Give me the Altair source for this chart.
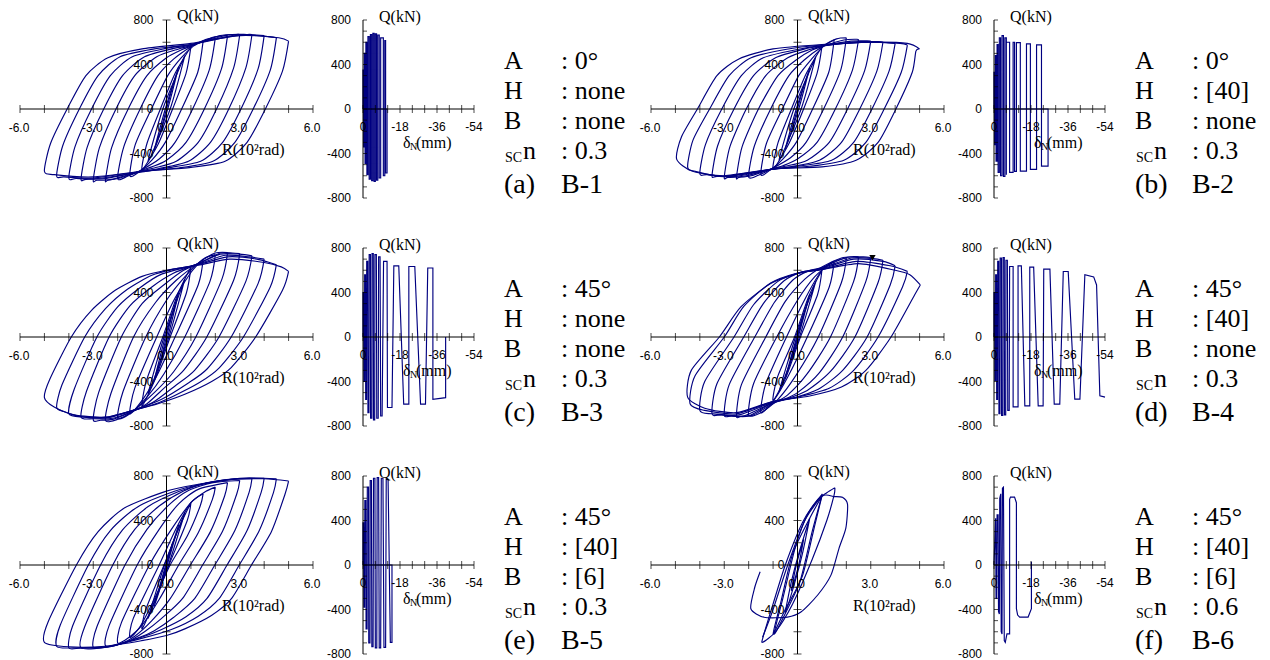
import altair as alt
import pandas as pd

NAVY = "#000080"
SANS = "Liberation Sans, Arial, sans-serif"
SERIF = "Liberation Serif, Times New Roman, serif"

# ---------------- axis definitions ----------------
R_TICKS = [-6, -5, -4, -3, -2, -1, 0, 1, 2, 3, 4, 5, 6]
R_LABELS = [-6, -3, 0, 3, 6]
R_LABEL_TEXT = ["-6.0", "-3.0", "0.0", "3.0", "6.0"]
Q_TICKS = [-800, -600, -400, -200, 0, 200, 400, 600, 800]
Q_LABELS = [-800, -400, 0, 400, 800]
Q_LABEL_TEXT = ["-800", "-400", "0", "400", "800"]
D_TICKS = [0, -6, -12, -18, -24, -30, -36, -42, -48, -54]
D_LABELS = [0, -18, -36, -54]
D_LABEL_TEXT = ["0", "-18", "-36", "-54"]
DQ_TICKS = [-800, -700, -600, -500, -400, -300, -200, -100, 0, 100, 200, 300, 400, 500, 600, 700, 800]

# ---------------- hysteresis loops (R [10^-2 rad], Q [kN]) ----------------
B1_LOOPS = [
    [5, 610, 4.75, 340, 4.05, 0, 3.3, -300, 2.4, -470, 1.0, -525, -1, -560, -3, -610, -4.6, -590, -5, -560, -4.75, -310, -4.07, 0, -3.3, 300, -2.4, 460, -1, 540, 1, 590, 3, 660, 4.6, 640, 5, 610],
    [4.5, 640, 4.25, 350, 3.55, 0, 2.8, -300, 1.9, -470, 0.5, -530, -1, -560, -3, -620, -4.2, -610, -4.5, -600, -4.25, -330, -3.57, 0, -2.8, 300, -1.9, 470, -0.5, 540, 1, 580, 3, 665, 4.2, 650, 4.5, 640],
    [4, 660, 3.75, 360, 3.05, 0, 2.3, -300, 1.4, -470, 0, -530, -1, -565, -2.8, -625, -3.7, -625, -4, -620, -3.75, -340, -3.07, 0, -2.3, 300, -1.4, 470, 0, 545, 1, 580, 2.8, 665, 3.7, 665, 4, 660],
    [3.5, 670, 3.25, 370, 2.55, 0, 1.8, -300, 0.9, -470, -0.3, -535, -1, -560, -2.5, -625, -3.3, -632, -3.5, -630, -3.25, -345, -2.57, 0, -1.8, 300, -0.9, 470, 0.3, 545, 1, 575, 2.5, 665, 3.3, 670, 3.5, 670],
    [3, 670, 2.75, 370, 2.05, 0, 1.3, -300, 0.4, -470, -0.5, -530, -1, -555, -2.2, -630, -2.85, -640, -3, -640, -2.75, -350, -2.07, 0, -1.3, 300, -0.4, 470, 0.5, 540, 1, 570, 2.2, 660, 2.85, 670, 3, 670],
    [2.5, 660, 2.25, 360, 1.55, 0, 0.8, -300, 0, -460, -0.6, -520, -1, -550, -1.9, -620, -2.4, -640, -2.5, -640, -2.25, -350, -1.57, 0, -0.8, 300, 0, 460, 0.6, 530, 1, 565, 1.9, 645, 2.4, 660, 2.5, 660],
    [2, 640, 1.75, 350, 1.07, 0, 0.35, -300, -0.3, -450, -1, -545, -1.6, -605, -2, -625, -1.75, -340, -1.08, 0, -0.35, 300, 0.3, 450, 1, 560, 1.6, 625, 2, 640],
    [1.5, 610, 1.28, 330, 0.62, 0, -0.05, -300, -0.6, -460, -1.1, -560, -1.5, -600, -1.28, -320, -0.62, 0, 0.05, 300, 0.6, 460, 1.1, 565, 1.5, 610],
    [1, 560, 0.8, 320, 0.25, 0, -0.35, -320, -1, -545, -0.8, -310, -0.25, 0, 0.35, 320, 1, 560],
    [0.75, 480, 0.15, 0, -0.75, -470, -0.15, 0, 0.75, 480],
    [0.5, 380, 0.05, 0, -0.5, -370, -0.05, 0, 0.5, 380],
    [0.25, 200, -0.25, -200, 0.25, 200],
]

B2_LOOPS = [
    [5, 540, 4.85, 520, 4.7, 330, 4.03, 0, 3.3, -300, 2.4, -460, 1, -520, -1, -540, -3, -600, -4.3, -560, -4.95, -450, -4.75, -250, -4.1, 0, -3.3, 300, -2.4, 450, -1, 540, 1, 580, 3, 600, 4.5, 590, 5, 540],
    [4.5, 575, 4.25, 330, 3.55, 0, 2.8, -300, 1.9, -460, 0.5, -515, -1, -540, -3, -605, -4.2, -560, -4.5, -520, -4.28, -280, -3.6, 0, -2.8, 300, -1.9, 460, -0.5, 535, 1, 575, 3, 600, 4.2, 590, 4.5, 575],
    [4, 590, 3.75, 340, 3.05, 0, 2.3, -300, 1.4, -460, 0, -515, -1, -540, -2.8, -605, -3.7, -590, -4, -580, -3.77, -320, -3.1, 0, -2.3, 300, -1.4, 460, 0, 535, 1, 570, 2.8, 600, 3.7, 595, 4, 590],
    [3.5, 600, 3.25, 340, 2.55, 0, 1.8, -300, 0.9, -460, -0.3, -520, -1, -540, -2.5, -605, -3.3, -605, -3.5, -600, -3.27, -330, -2.6, 0, -1.8, 300, -0.9, 460, 0.3, 540, 1, 565, 2.5, 605, 3.3, 605, 3.5, 600],
    [3, 610, 2.75, 345, 2.05, 0, 1.3, -300, 0.4, -460, -0.5, -515, -1, -535, -2.2, -605, -2.85, -615, -3, -615, -2.77, -340, -2.1, 0, -1.3, 300, -0.4, 460, 0.5, 535, 1, 565, 2.2, 610, 2.85, 612, 3, 610],
    [2.5, 625, 2.25, 350, 1.55, 0, 0.8, -300, 0, -450, -0.6, -510, -1, -535, -1.9, -600, -2.4, -615, -2.5, -615, -2.27, -340, -1.6, 0, -0.8, 300, 0, 450, 0.6, 530, 1, 562, 1.9, 620, 2.4, 627, 2.5, 625],
    [2, 640, 1.77, 350, 1.07, 0, 0.35, -300, -0.3, -440, -1, -530, -1.6, -595, -2, -610, -1.77, -335, -1.1, 0, -0.35, 300, 0.3, 445, 1, 560, 1.6, 630, 2, 640],
    [1.5, 620, 1.28, 330, 0.62, 0, -0.05, -300, -0.6, -450, -1.1, -545, -1.5, -590, -1.28, -315, -0.62, 0, 0.05, 300, 0.6, 455, 1.1, 570, 1.5, 620],
    [1, 560, 0.8, 320, 0.25, 0, -0.35, -310, -1, -540, -0.8, -305, -0.25, 0, 0.35, 315, 1, 560],
    [0.75, 470, 0.15, 0, -0.75, -460, -0.15, 0, 0.75, 470],
    [0.5, 370, 0.05, 0, -0.5, -360, -0.05, 0, 0.5, 370],
    [0.25, 200, -0.25, -195, 0.25, 200],
]

B3_LOOPS = [
    [5, 590, 4.75, 420, 3.65, 0, 2.65, -275, 1.85, -400, 0.75, -515, -0.35, -600, -1.3, -655, -2.5, -720, -3.8, -700, -4.6, -630, -5, -545, -4.78, -380, -3.9, 0, -3.07, 240, -2.1, 420, -1, 545, 0, 600, 1.3, 645, 2.6, 700, 4, 670, 4.7, 630, 5, 590],
    [4.5, 650, 4.25, 450, 3.15, 0, 2.15, -280, 1.35, -410, 0.3, -530, -0.5, -605, -1.3, -655, -2.4, -720, -3.5, -715, -4.2, -670, -4.5, -630, -4.28, -430, -3.35, 0, -2.5, 255, -1.6, 430, -0.6, 555, 0.3, 610, 1.3, 650, 2.5, 720, 3.7, 700, 4.5, 650],
    [4, 700, 3.75, 480, 2.65, 0, 1.65, -290, 0.85, -420, -0.2, -560, -1.3, -655, -2.4, -725, -3.4, -720, -4, -690, -3.78, -470, -2.85, 0, -2.0, 270, -1.1, 440, -0.2, 565, 1.3, 655, 2.4, 735, 3.4, 720, 4, 700],
    [3.5, 730, 3.25, 500, 2.15, 0, 1.15, -300, 0.35, -440, -0.5, -580, -1.3, -660, -2.2, -730, -3, -735, -3.5, -720, -3.28, -490, -2.35, 0, -1.5, 280, -0.6, 450, 0.3, 575, 1.3, 660, 2.2, 745, 3, 745, 3.5, 730],
    [3, 750, 2.75, 510, 1.65, 0, 0.7, -300, -0.1, -460, -0.8, -600, -1.4, -670, -2.2, -740, -2.7, -748, -3, -745, -2.78, -500, -1.85, 0, -1.0, 300, -0.1, 470, 0.7, 600, 1.4, 670, 2.2, 755, 2.7, 755, 3, 750],
    [2.5, 760, 2.27, 520, 1.2, 0, 0.3, -310, -0.5, -500, -1.4, -670, -2.0, -740, -2.5, -750, -2.28, -510, -1.35, 0, -0.45, 310, 0.4, 510, 1.4, 680, 2, 755, 2.5, 760],
    [2, 740, 1.78, 500, 0.75, 0, -0.1, -330, -0.8, -540, -1.5, -690, -2, -730, -1.78, -490, -0.85, 0, 0, 330, 0.75, 540, 1.5, 700, 2, 740],
    [1.5, 700, 1.3, 470, 0.35, 0, -0.4, -350, -1.0, -570, -1.5, -690, -1.3, -460, -0.4, 0, 0.35, 350, 1, 580, 1.5, 700],
    [1, 630, 0.82, 400, 0.15, 0, -0.45, -370, -1, -620, -0.82, -390, -0.15, 0, 0.45, 380, 1, 630],
    [0.75, 520, 0.1, 0, -0.75, -510, -0.1, 0, 0.75, 520],
    [0.5, 400, 0.05, 0, -0.5, -390, -0.05, 0, 0.5, 400],
    [0.25, 220, -0.25, -215, 0.25, 220],
]

B4_LOOPS = [
    [5.03, 468, 4.8, 380, 3.83, 0, 2.8, -300, 1.8, -450, 0.5, -530, -1.02, -580, -2.5, -680, -3.8, -640, -4.5, -540, -4.35, -300, -3.2, 0, -2.32, 270, -1.1, 480, 0, 570, 0.96, 605, 2.5, 660, 4, 600, 4.6, 560, 5.03, 468],
    [4.5, 590, 4.3, 450, 3.3, 0, 2.3, -300, 1.3, -460, 0, -540, -1.02, -580, -2.5, -690, -3.8, -660, -4.4, -600, -4.2, -350, -3.0, 0, -2.2, 275, -1.1, 485, 0, 575, 0.96, 605, 2.4, 680, 3.8, 640, 4.5, 590],
    [4, 640, 3.8, 470, 2.85, 0, 1.85, -300, 0.85, -470, -0.2, -550, -1.02, -585, -2.4, -700, -3.5, -690, -4, -660, -3.8, -400, -2.6, 0, -1.8, 290, -0.8, 500, 0.1, 580, 0.96, 610, 2.3, 700, 3.5, 680, 4, 640],
    [3.5, 690, 3.3, 490, 2.35, 0, 1.35, -310, 0.4, -480, -0.5, -560, -1.02, -590, -2.2, -710, -3.1, -700, -3.5, -690, -3.3, -420, -2.2, 0, -1.4, 300, -0.55, 505, 0.2, 585, 0.96, 615, 2.2, 710, 3.1, 705, 3.5, 690],
    [3, 715, 2.8, 500, 1.85, 0, 0.9, -320, 0, -500, -0.6, -565, -1.1, -600, -2, -710, -2.7, -710, -3, -700, -2.8, -430, -1.75, 0, -0.95, 310, -0.2, 510, 0.4, 590, 1, 625, 2, 715, 2.7, 720, 3, 715],
    [2.5, 720, 2.3, 500, 1.35, 0, 0.4, -330, -0.4, -520, -1.1, -610, -1.8, -700, -2.3, -712, -2.5, -710, -2.3, -430, -1.3, 0, -0.5, 320, 0.3, 520, 1, 630, 1.8, 710, 2.3, 722, 2.5, 720],
    [2, 710, 1.8, 490, 0.85, 0, -0.05, -340, -0.8, -560, -1.5, -680, -2, -700, -1.8, -420, -0.85, 0, 0, 330, 0.7, 540, 1.4, 670, 2, 710],
    [1.5, 680, 1.3, 450, 0.4, 0, -0.4, -360, -1.0, -580, -1.5, -680, -1.3, -420, -0.45, 0, 0.35, 360, 1, 600, 1.5, 680],
    [1, 600, 0.82, 380, 0.12, 0, -0.45, -350, -1, -570, -0.82, -360, -0.12, 0, 0.45, 360, 1, 600],
    [0.75, 500, 0.08, 0, -0.75, -490, -0.08, 0, 0.75, 500],
    [0.5, 380, 0.03, 0, -0.5, -370, -0.03, 0, 0.5, 380],
    [0.25, 210, -0.25, -205, 0.25, 210],
]
B4_MARK_R = [3.07]
B4_MARK_Q = [713]

B5_LOOPS = [
    [5, 755, 4.85, 634, 4.3, 302, 3.48, 0, 2.66, -302, 1.84, -453, 0.75, -574, 0, -634, -1.02, -680, -2.5, -730, -4, -735, -5, -695, -4.85, -513, -3.69, 0, -2.8, 300, -1.71, 514, 0, 664, 1.3, 725, 2.66, 770, 4, 775, 5, 755],
    [4.5, 775, 4.38, 650, 3.8, 310, 2.98, 0, 2.16, -300, 1.3, -460, 0.2, -580, -1.02, -660, -2.5, -735, -3.8, -745, -4.5, -730, -4.35, -540, -3.2, 0, -2.3, 310, -1.2, 520, 0.3, 660, 1.5, 730, 3, 775, 4, 780, 4.5, 775],
    [4, 780, 3.88, 655, 3.3, 310, 2.48, 0, 1.66, -300, 0.8, -465, -0.2, -580, -1.02, -650, -2.4, -735, -3.5, -745, -4, -745, -3.85, -550, -2.7, 0, -1.8, 315, -0.75, 525, 0.5, 660, 1.6, 735, 3, 780, 4, 780],
    [3.5, 775, 3.38, 650, 2.8, 310, 1.98, 0, 1.16, -300, 0.3, -470, -0.5, -590, -1.1, -650, -2.3, -735, -3.5, -745, -3.35, -555, -2.2, 0, -1.3, 320, -0.3, 530, 0.7, 665, 1.7, 740, 2.8, 775, 3.5, 775],
    [3, 760, 2.88, 640, 2.3, 305, 1.48, 0, 0.66, -300, -0.2, -480, -0.9, -600, -1.6, -690, -2.4, -735, -3, -740, -2.85, -555, -1.7, 0, -0.8, 320, 0.1, 540, 0.9, 670, 1.9, 740, 3, 760],
    [2.5, 740, 2.38, 620, 1.8, 300, 0.98, 0, 0.16, -300, -0.6, -500, -1.3, -640, -1.9, -710, -2.5, -725, -2.35, -545, -1.2, 0, -0.3, 320, 0.5, 550, 1.3, 680, 2.5, 740],
    [2, 700, 1.88, 590, 1.3, 290, 0.5, 0, -0.3, -310, -1.0, -540, -1.6, -660, -2, -700, -1.85, -520, -0.7, 0, 0.2, 320, 1, 560, 1.6, 660, 2, 700],
    [1.5, 640, 1.38, 530, 0.85, 260, 0.15, 0, -0.55, -330, -1.1, -560, -1.5, -650, -1.36, -480, -0.3, 0, 0.4, 330, 1, 560, 1.5, 640],
    [1, 560, 0.85, 400, 0.1, 0, -0.5, -330, -1, -574, -0.85, -400, -0.1, 0, 0.5, 330, 1, 560],
    [0.75, 470, 0.08, 0, -0.75, -480, -0.08, 0, 0.75, 470],
    [0.5, 360, 0.03, 0, -0.5, -370, -0.03, 0, 0.5, 360],
    [0.25, 200, -0.25, -200, 0.25, 200],
]

B6_LOOPS = [
    [0.25, 230, 0.05, 0, -0.25, -230, -0.05, 0, 0.25, 230],
    [0.5, 420, 0.2, 100, -0.1, -150, -0.5, -430, -0.25, -150, 0.05, 100, 0.5, 420],
    [1.0, 620, 0.7, 350, 0.2, -100, -0.5, -400, -1.0, -620, -0.7, -350, -0.2, 100, 0.5, 420, 1.0, 620],
    [1.02, 640, 0.6, 300, 0.1, -150, -0.6, -480, -0.96, -619, -0.6, -300, -0.1, 150, 0.4, 450, 1.02, 640],
    [1.53, 695, 1.5, 630, 1.2, 400, 0.6, 50, -0.2, -350, -0.9, -600, -1.43, -695, -1.4, -640, -1.0, -350, -0.5, 0, 0.2, 380, 0.8, 580, 1.2, 650, 1.53, 695],
    [-1.43, -650, -1.0, -400, -0.4, 0, 0.3, 400, 1.02, 620, 1.5, 615, 1.84, 608, 2.05, 544, 1.98, 332, 1.7, 150, 1.37, -91, 0.82, -272, 0.14, -423, -0.41, -468, -1.37, -470, -1.91, -393, -1.75, -200, -1.53, -60],
]

# ---------------- axial shortening paths (dN [mm], Q [kN]) ----------------
B1_DN = [0, 0, 0, 350, -0.3, 350, -0.3, -340, -0.6, -340, -0.6, 500, -1.0, 500, -1.0, -490, -1.4, -490, -1.4, 600, -1.9, 600, -1.9, -590, -2.4, -590, -2.4, 650, -3.0, 650, -3.0, -630, -3.6, -630, -3.6, 670, -4.2, 670, -4.2, -645, -4.8, -645, -4.8, 680, -5.4, 680, -5.4, -650, -6.0, -650, -6.0, 675, -6.6, 675, -6.6, -640, -7.2, -640, -7.2, 665, -7.9, 665, -7.9, -620, -8.6, -620, -8.6, 640, -9.9, 640, -9.9, -600, -10.6, -600, -10.6, 615, -11.0, 615, -11.0, -575, -11.7, -575, -11.7, 0, 0, 0]
B2_DN = [0, 0, 0, 330, -0.3, 330, -0.3, -320, -0.6, -320, -0.6, 480, -1.0, 480, -1.0, -470, -1.5, -470, -1.5, 580, -2.0, 580, -2.0, -570, -2.6, -570, -2.6, 640, -3.2, 640, -3.2, -600, -3.9, -600, -3.9, 660, -4.6, 660, -4.6, -605, -5.3, -605, -5.3, 640, -6.0, 640, -6.0, -590, -6.0, 600, -7.6, 600, -7.6, -570, -9.3, -570, -9.3, 600, -10.0, 600, -10.0, -560, -10.9, -560, -10.9, 597, -12.8, 597, -12.8, -558, -15.8, -558, -15.8, 585, -17.7, 585, -17.7, -543, -20.7, -543, -20.7, 576, -23.1, 576, -23.1, -513, -26.3, -513, -26.3, 0, 0, 0]
B3_DN = [0, 0, 0, 400, -0.3, 400, -0.4, -400, -0.7, -400, -0.8, 560, -1.2, 560, -1.3, -560, -1.7, -560, -1.8, 680, -2.3, 680, -2.4, -680, -2.9, -680, -3.0, 740, -3.6, 740, -3.7, -730, -4.3, -730, -4.4, 750, -5.0, 750, -5.1, -745, -5.7, -745, -5.8, 740, -6.5, 740, -6.7, -730, -7.4, -730, -7.6, 720, -8.3, 720, -8.6, -710, -9.3, -710, -10.0, 680, -11.7, 680, -11.9, -634, -14.1, -634, -15.0, 640, -17.4, 640, -19.8, -604, -22.3, -604, -22.3, 634, -25.2, 634, -28.0, -604, -30.4, -604, -31.5, 620, -34.0, 620, -34.0, -560, -40.2, -545, -40.2, 0]
B4_DN = [0, 0, 0, 400, -0.3, 400, -0.4, -390, -0.7, -390, -0.8, 560, -1.2, 560, -1.3, -560, -1.7, -560, -1.8, 680, -2.3, 680, -2.4, -690, -2.9, -690, -3.0, 710, -3.6, 710, -3.7, -705, -4.3, -705, -4.4, 715, -5.0, 715, -5.1, -700, -5.7, -700, -5.8, 690, -6.5, 690, -6.7, -660, -7.4, -660, -7.6, 634, -9.3, 634, -9.3, -628, -11.7, -628, -11.7, 640, -13.3, 640, -15.0, -619, -17.4, -619, -17.4, 628, -19.3, 628, -21.5, -619, -23.9, -619, -24.2, 610, -27.2, 610, -29.3, -604, -32.0, -604, -33.7, 589, -36.1, 589, -39.3, -559, -41.8, -559, -44.2, 559, -48.5, 540, -49.9, 468, -51.5, -529, -54.0, -540]
B5_DN = [0, 0, 0, 380, -0.3, 380, -0.4, -380, -0.8, -380, -0.9, 580, -1.4, 580, -1.5, -575, -2.0, -575, -2.1, 700, -2.7, 700, -2.8, -700, -3.4, -700, -3.5, 760, -4.1, 760, -4.3, -735, -4.9, -735, -5.1, 780, -5.8, 780, -6.0, -745, -6.7, -745, -6.9, 785, -7.6, 785, -7.9, -745, -8.6, -745, -8.9, 780, -9.7, 780, -10.2, -740, -11.0, -740, -11.3, 770, -12.2, 770, -13.3, -695, -14.1, -695, -14.1, 0, 0, 0]
B6_DN = [0, 0, -0.8, 420, -1.0, -300, -1.3, -300, -1.5, 450, -2.0, 450, -2.2, -420, -2.6, -440, -2.8, 600, -3.3, 640, -3.5, -600, -3.9, -620, -4.1, 690, -4.6, 700, -5.0, -680, -5.5, -695, -6.3, -619, -7.6, -619, -7.6, 590, -8.0, 610, -10.0, 610, -10.9, 560, -10.9, -393, -11.5, -450, -12.5, -468, -16.6, -468, -18.2, -393, -18.2, 30]

# ---------------- specimen parameters ----------------
SPEC_A = ["0°", "0°", "45°", "45°", "45°", "45°"]
SPEC_H = ["none", "[40]", "none", "[40]", "[40]", "[40]"]
SPEC_B = ["none", "none", "none", "none", "[6]", "[6]"]
SPEC_N = ["0.3", "0.3", "0.3", "0.3", "0.3", "0.6"]
TAGS = ["(a)", "(b)", "(c)", "(d)", "(e)", "(f)"]
NAMES = ["B-1", "B-2", "B-3", "B-4", "B-5", "B-6"]

HW, HH = 293, 178   # hysteresis plot area
DW = 111            # axial plot width (0 .. -54 mm)
DTILE = 238         # axial tile incl. text block
GAP = 50
LW = 1.15


def flat_df(flat, key="X"):
    return pd.DataFrame({key: flat[0::2], "Q": flat[1::2], "i": list(range(len(flat) // 2))})


def loops_df(loops):
    parts = []
    for k, fl in enumerate(loops):
        d = flat_df(fl, "R")
        d["loop"] = k
        parts.append(d)
    return pd.concat(parts, ignore_index=True)


def txt(s, x, y, size, font=SERIF, align="left", baseline="middle"):
    return alt.Chart(pd.DataFrame({"s": [s]})).mark_text(
        font=font, fontSize=size, align=align, baseline=baseline, color="black"
    ).encode(x=alt.value(x), y=alt.value(y), text="s:N")


def hyst_chart(loops, marker=None):
    xs = alt.Scale(domain=[R_TICKS[0], R_TICKS[-1]], nice=False, zero=False)
    ys = alt.Scale(domain=[Q_TICKS[0], Q_TICKS[-1]], nice=False, zero=False)
    X = lambda f: alt.X(f, scale=xs, axis=None)
    Y = lambda f: alt.Y(f, scale=ys, axis=None)
    lines = alt.Chart(loops_df(loops)).mark_line(
        color=NAVY, strokeWidth=LW, interpolate="cardinal", tension=0.3
    ).encode(x=X("R:Q"), y=Y("Q:Q"), detail="loop:N", order="i:Q")
    xaxis = alt.Chart(pd.DataFrame({"a": [R_TICKS[0]], "b": [R_TICKS[-1]], "z": [0]})).mark_rule(
        color="black", strokeWidth=1).encode(x=X("a:Q"), x2="b:Q", y=Y("z:Q"))
    yaxis = alt.Chart(pd.DataFrame({"a": [Q_TICKS[0]], "b": [Q_TICKS[-1]], "z": [0]})).mark_rule(
        color="black", strokeWidth=1).encode(y=Y("a:Q"), y2="b:Q", x=X("z:Q"))
    xt = alt.Chart(pd.DataFrame({"t": R_TICKS, "z": 0})).mark_tick(
        orient="vertical", size=8, thickness=1, color="black").encode(x=X("t:Q"), y=Y("z:Q"))
    yt = alt.Chart(pd.DataFrame({"t": Q_TICKS, "z": 0})).mark_tick(
        orient="horizontal", size=8, thickness=1, color="black").encode(y=Y("t:Q"), x=X("z:Q"))
    xl = alt.Chart(pd.DataFrame({"t": R_LABELS, "z": 0, "s": R_LABEL_TEXT})).mark_text(
        font=SANS, fontSize=12, dy=19, dx=-1, align="center", baseline="middle").encode(
        x=X("t:Q"), y=Y("z:Q"), text="s:N")
    yl = alt.Chart(pd.DataFrame({"t": Q_LABELS, "z": 0, "s": Q_LABEL_TEXT})).mark_text(
        font=SANS, fontSize=12, dx=-13, align="right", baseline="middle").encode(
        x=X("z:Q"), y=Y("t:Q"), text="s:N")
    layers = [lines, xaxis, yaxis, xt, yt, xl, yl,
              txt("Q(kN)", 157, -4, 16),
              txt("R(10²rad)", 202, 130, 16)]
    if marker is not None:
        layers.append(alt.Chart(pd.DataFrame({"R": marker[0], "Q": marker[1]})).mark_point(
            shape="triangle-down", filled=True, color="black", size=40, opacity=1).encode(
            x=X("R:Q"), y=Y("Q:Q")))
    return alt.layer(*layers).properties(width=HW, height=HH)


def dn_chart(path, k):
    # the tile is wider than the axial plot so that the parameter text fits in it
    xs = alt.Scale(domain=[D_TICKS[0], D_TICKS[-1] * DTILE / DW], nice=False, zero=False)
    ys = alt.Scale(domain=[Q_TICKS[0], Q_TICKS[-1]], nice=False, zero=False)
    X = lambda f: alt.X(f, scale=xs, axis=None)
    Y = lambda f: alt.Y(f, scale=ys, axis=None)
    line = alt.Chart(flat_df(path, "D")).mark_line(color=NAVY, strokeWidth=LW).encode(
        x=X("D:Q"), y=Y("Q:Q"), order="i:Q")
    xaxis = alt.Chart(pd.DataFrame({"a": [D_TICKS[0]], "b": [D_TICKS[-1]], "z": [0]})).mark_rule(
        color="black", strokeWidth=1).encode(x=X("a:Q"), x2="b:Q", y=Y("z:Q"))
    yaxis = alt.Chart(pd.DataFrame({"a": [Q_TICKS[0]], "b": [Q_TICKS[-1]], "z": [0]})).mark_rule(
        color="black", strokeWidth=1).encode(y=Y("a:Q"), y2="b:Q", x=X("z:Q"))
    xt = alt.Chart(pd.DataFrame({"t": D_TICKS, "z": 0})).mark_tick(
        orient="vertical", size=8, thickness=1, color="black").encode(x=X("t:Q"), y=Y("z:Q"))
    yt = alt.Chart(pd.DataFrame({"t": DQ_TICKS, "z": 0})).mark_tick(
        orient="horizontal", size=4, thickness=1, color="black", xOffset=2).encode(y=Y("t:Q"), x=X("z:Q"))
    xl = alt.Chart(pd.DataFrame({"t": D_LABELS, "z": 0, "s": D_LABEL_TEXT})).mark_text(
        font=SANS, fontSize=12, dy=18, align="center", baseline="middle").encode(
        x=X("t:Q"), y=Y("z:Q"), text="s:N")
    yl = alt.Chart(pd.DataFrame({"t": Q_LABELS, "z": 0, "s": Q_LABEL_TEXT})).mark_text(
        font=SANS, fontSize=12, dx=-12, align="right", baseline="middle").encode(
        x=X("z:Q"), y=Y("t:Q"), text="s:N")
    lx, vx = 141, 198
    fs = 26
    layers = [line, xaxis, yaxis, xt, yt, xl, yl,
              txt("Q(kN)", 16, -3, 16),
              txt("δ", 40, 123, 16),
              txt("N", 47, 127, 10),
              txt("(mm)", 53, 123, 16),
              txt("A", lx, 49, fs, baseline="alphabetic"),
              txt(": " + SPEC_A[k], vx, 49, fs, baseline="alphabetic"),
              txt("H", lx, 79, fs, baseline="alphabetic"),
              txt(": " + SPEC_H[k], vx, 79, fs, baseline="alphabetic"),
              txt("B", lx, 109, fs, baseline="alphabetic"),
              txt(": " + SPEC_B[k], vx, 109, fs, baseline="alphabetic"),
              txt("SC", lx + 1, 142, 14, baseline="alphabetic"),
              txt("n", lx + 19, 139, fs, baseline="alphabetic"),
              txt(": " + SPEC_N[k], vx, 139, fs, baseline="alphabetic"),
              txt(TAGS[k], lx, 173, 28, baseline="alphabetic"),
              txt(NAMES[k], vx, 173, 28, baseline="alphabetic")]
    return alt.layer(*layers).properties(width=DTILE, height=HH)


ALL_LOOPS = [B1_LOOPS, B2_LOOPS, B3_LOOPS, B4_LOOPS, B5_LOOPS, B6_LOOPS]
ALL_DN = [B1_DN, B2_DN, B3_DN, B4_DN, B5_DN, B6_DN]

tiles = []
for k in range(6):
    marker = (B4_MARK_R, B4_MARK_Q) if k == 3 else None
    tiles.append(hyst_chart(ALL_LOOPS[k], marker))
    tiles.append(dn_chart(ALL_DN[k], k))

chart = alt.concat(*tiles, columns=4, spacing=GAP, bounds="flush").properties(
    padding=0, background="white").configure_view(stroke=None)

chart.save("out.html", embed_options={"renderer": "svg", "actions": False})
